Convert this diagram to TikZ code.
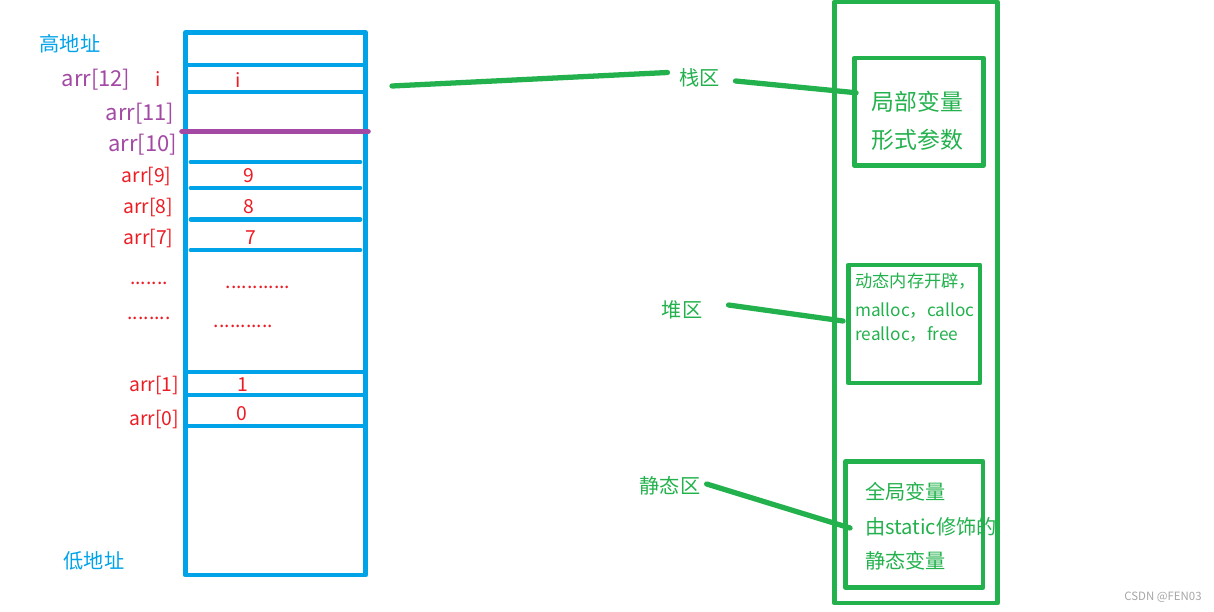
\documentclass[tikz,border=0pt]{standalone}
\usepackage{fontspec}
\setmainfont{Noto Sans CJK SC}
\definecolor{pblue}{RGB}{0,162,232}
\definecolor{pred}{RGB}{237,28,36}
\definecolor{ppurple}{RGB}{163,73,164}
\definecolor{pgreen}{RGB}{34,177,76}
\begin{document}
\begin{tikzpicture}[x=0.02cm, y=-0.02cm, line join=round, line cap=round,
  blk/.style={draw=pblue, line width=2.8pt},
  grn/.style={draw=pgreen, line width=2.8pt},
  link/.style={pgreen, line width=3pt},
  lbl/.style={inner sep=0pt, font=\fontsize{11}{13}\selectfont},
  big/.style={inner sep=0pt, font=\fontsize{13}{15}\selectfont},
  small/.style={inner sep=0pt, anchor=west, font=\fontsize{9.8}{11}\selectfont}]
 \useasboundingbox (0,0) rectangle (1214,612);
 \def\xl{185.5}\def\xr{365.5}
 % stack frame
 \draw[blk] (\xl,32.5) rectangle (\xr,575);
 \foreach \y in {65,92,372,395,426}
 \draw[blk] (\xl,\y)--(\xr,\y);
 \foreach \y in {162,188,219.5,250}
 \draw[blk] (191,\y)--(360,\y);
 \draw[ppurple, line width=3.2pt] (182,131.5)--(368,131.5);
 \node[lbl, pblue, font=\fontsize{11.5}{13}\selectfont] (high) at (70,43.5) {高地址};
 \node[lbl, pblue, font=\fontsize{11.5}{13}\selectfont] (low) at (94,561) {低地址};
 \foreach \k/\x/\y in {12/96/80,11/140/114,10/142.5/145}
 \node[lbl, ppurple, font=\fontsize{12.5}{14}\selectfont] (a\k) at (\x,\y) {arr[\k]};
 \foreach \k/\x/\y in {9/146.5/176,8/148/207,7/148.5/238,1/154/385,0/154/419}
 \node[lbl, pred] (a\k) at (\x,\y) {arr[\k]};
 \foreach \k/\x/\y in {9/249/176,8/249/207,7/251/238,1/243/385,0/242/414}
 \node[lbl, pred] (v\k) at (\x,\y) {\k};
 \node[lbl, pred] (iname) at (158,79) {i};
 \node[lbl, pred] (ival) at (238,80) {i};
 \node[lbl, pred] (d1) at (149,283) {.......};
 \node[lbl, pred] (d2) at (149,318) {........};
 \node[lbl, pred] (d3) at (258,287) {............};
 \node[lbl, pred] (d4) at (243.5,326) {...........};
 \coordinate (iend) at (392,86);
 % memory areas
 \draw[grn] (834.5,2) rectangle (997.5,603);
 \node[grn, minimum width=2.58cm, minimum height=2.15cm] (localbox) at (919,111.75) {};
 \node[grn, minimum width=2.63cm, minimum height=2.36cm] (heapbox) at (914.25,324) {};
 \node[grn, minimum width=2.75cm, minimum height=2.52cm] (staticbox) at (914.25,524.5) {};
 \node[big, pgreen] (loc) at (917.5,102) {局部变量};
 \node[big, pgreen] (par) at (917.5,140) {形式参数};
 \node[small, pgreen] (dyn) at (855,281.5) {动态内存开辟，};
 \node[small, pgreen] (mal) at (855,311) {malloc，calloc};
 \node[small, pgreen] (rea) at (855,334) {realloc，free};
 \node[lbl, anchor=west, pgreen, font=\fontsize{11.5}{13}\selectfont] (glob) at (865,492) {全局变量};
 \node[lbl, anchor=west, pgreen, font=\fontsize{11.5}{13}\selectfont] (stat) at (865,527) {由static修饰的};
 \node[lbl, anchor=west, pgreen, font=\fontsize{11.5}{13}\selectfont] (svar) at (865,561) {静态变量};
 \node[lbl, pgreen, font=\fontsize{11.5}{13}\selectfont] (stack) at (699.5,78) {栈区};
 \node[lbl, pgreen, font=\fontsize{11.5}{13}\selectfont] (heap) at (682,310) {堆区};
 \node[lbl, pgreen, font=\fontsize{11.5}{13}\selectfont] (static) at (670,486) {静态区};
 \draw[link] (iend)--([shift={(-11.5,-5.5)}]stack.west);
 \draw[link] ([shift={(15.5,3)}]stack.east)--([shift={(4,-19)}]localbox.west);
 \draw[link] ([shift={(26,-5)}]heap.east)--([shift={(-3,-3)}]heapbox.west);
 \draw[link] ([shift={(6,-2)}]static.east)--([shift={(7,3.5)}]staticbox.west);
 \node[lbl, gray!70, font=\fontsize{6.5}{8}\selectfont] (mark) at (1163,597) {CSDN @FEN03};
\end{tikzpicture}
\end{document}
